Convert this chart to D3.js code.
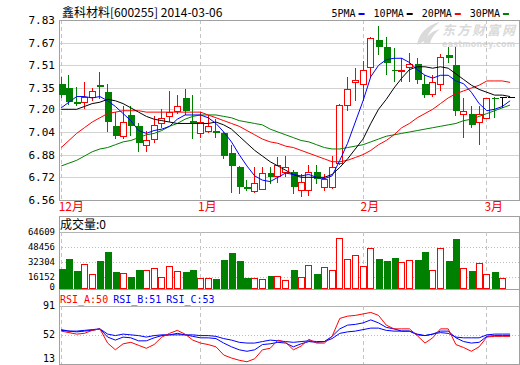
<!DOCTYPE html>
<html><head><meta charset="utf-8">
<script src="https://cdn.jsdelivr.net/npm/d3@7"></script>
<style>html,body{margin:0;padding:0;background:#fff}svg{display:block}</style>
</head><body>
<svg id="c" width="520" height="365"></svg>
<script>
// ---------------- DATA ----------------
const dates = [
 "2013-12-06","2013-12-09","2013-12-10","2013-12-11","2013-12-12","2013-12-13","2013-12-16","2013-12-17","2013-12-18","2013-12-19",
 "2013-12-20","2013-12-23","2013-12-24","2013-12-25","2013-12-26","2013-12-27","2013-12-30","2013-12-31","2014-01-02","2014-01-03",
 "2014-01-06","2014-01-07","2014-01-08","2014-01-09","2014-01-10","2014-01-13","2014-01-14","2014-01-15","2014-01-16","2014-01-17",
 "2014-01-20","2014-01-21","2014-01-22","2014-01-23","2014-01-24","2014-01-27","2014-01-28","2014-01-29","2014-01-30","2014-02-07",
 "2014-02-10","2014-02-11","2014-02-12","2014-02-13","2014-02-14","2014-02-17","2014-02-18","2014-02-19","2014-02-20","2014-02-21",
 "2014-02-24","2014-02-25","2014-02-26","2014-02-27","2014-02-28","2014-03-03","2014-03-04","2014-03-05","2014-03-06"];
const open = [7.38,7.35,7.25,7.25,7.29,7.37,7.32,7.08,7.01,7.16, 7.08,6.95,6.99,7.10,7.15,7.19,7.28,7.12,7.03,7.05,
 7.05,7.03,6.89,6.79,6.65,6.62,6.64,6.75,6.73,6.76, 6.76,6.63,6.63,6.76,6.65,6.65,6.82,7.23,7.39,7.38,
 7.50,7.69,7.64,7.48,7.47,7.50,7.52,7.38,7.31,7.38, 7.58,7.51,7.17,7.17,7.11,7.14,7.28,7.29,7.29];
const high = [7.43,7.44,7.36,7.39,7.35,7.46,7.38,7.18,7.22,7.22, 7.10,7.05,7.15,7.20,7.33,7.30,7.34,7.30,7.18,7.16,
 7.13,7.04,6.95,6.80,6.70,6.79,6.79,6.79,6.86,6.87, 6.77,6.74,6.81,6.81,6.74,6.87,7.24,7.43,7.49,7.54,
 7.71,7.79,7.71,7.63,7.56,7.60,7.56,7.44,7.44,7.59, 7.64,7.64,7.28,7.22,7.22,7.28,7.29,7.29,7.29];
const low = [7.28,7.23,7.22,7.20,7.26,7.27,7.04,6.99,6.99,7.01, 6.90,6.90,6.96,7.07,7.11,7.17,7.16,6.99,7.00,7.03,
 7.00,6.85,6.61,6.60,6.62,6.61,6.63,6.67,6.68,6.72, 6.60,6.58,6.59,6.67,6.62,6.64,6.81,7.19,7.26,7.26,
 7.43,7.58,7.44,7.39,7.39,7.39,7.38,7.28,7.29,7.33, 7.53,7.15,7.00,7.07,6.95,7.13,7.14,7.21,7.29];
const close = [7.30,7.25,7.24,7.29,7.33,7.36,7.11,7.01,7.11,7.08, 6.96,6.98,7.09,7.14,7.18,7.22,7.19,7.10,7.11,7.08,
 7.03,6.87,6.80,6.65,6.64,6.68,6.75,6.72,6.81,6.79, 6.65,6.69,6.76,6.71,6.71,6.79,7.23,7.34,7.41,7.48,
 7.70,7.64,7.53,7.47,7.48,7.52,7.41,7.30,7.39,7.57, 7.56,7.19,7.19,7.09,7.17,7.28,7.27,7.29,7.29];
const volume = [24405,35172,22252,29430,19022,33019,42709,21175,19740,15792, 23329,22970,25123,15433,27276,21893,21175,23329,14715,14715,
 13638,34096,41632,33019,14715,14715,13279,16868,16509,12203, 23329,15433,28353,19022,26200,22970,57424,34813,39120,27276,
 46657,34813,33019,36249,31583,33737,34096,42709,22970,46657, 33019,56706,25123,22252,30507,18663,21175,14356,0];
const ma5 = [7.21,7.25,7.29,7.29,7.28,7.29,7.26,7.22,7.17,7.12, 7.05,7.03,7.05,7.06,7.08,7.13,7.16,7.16,7.16,7.14,
 7.10,7.04,6.97,6.88,6.80,6.73,6.70,6.69,6.72,6.75, 6.74,6.73,6.74,6.72,6.71,6.73,6.84,6.96,7.11,7.26,
 7.43,7.51,7.55,7.56,7.56,7.53,7.48,7.44,7.42,7.44, 7.44,7.40,7.38,7.32,7.24,7.19,7.20,7.22,7.26];
const ma10 = [7.20,7.20,7.20,7.22,7.24,7.25,7.27,7.26,7.24,7.21, 7.18,7.15,7.13,7.12,7.11,7.10,7.10,7.10,7.10,7.10,
 7.11,7.09,7.06,7.01,6.96,6.91,6.87,6.83,6.80,6.77, 6.74,6.72,6.72,6.72,6.72,6.74,6.79,6.85,6.92,6.99,
 7.10,7.20,7.27,7.35,7.42,7.48,7.50,7.50,7.49,7.50, 7.49,7.45,7.41,7.37,7.34,7.32,7.30,7.30,7.29];
const ma20 = [6.93,6.98,7.03,7.07,7.11,7.14,7.17,7.18,7.19,7.19, 7.19,7.18,7.18,7.18,7.18,7.18,7.18,7.18,7.18,7.16,
 7.14,7.12,7.10,7.08,7.05,7.02,6.99,6.97,6.96,6.94, 6.93,6.91,6.89,6.87,6.85,6.83,6.83,6.84,6.86,6.88,
 6.91,6.95,6.98,7.02,7.07,7.10,7.14,7.17,7.20,7.24, 7.28,7.31,7.33,7.35,7.37,7.40,7.40,7.40,7.39];
const ma30 = [6.80,6.82,6.84,6.87,6.90,6.92,6.93,6.95,6.97,6.98, 7.00,7.02,7.03,7.05,7.08,7.10,7.13,7.15,7.16,7.16,
 7.16,7.15,7.14,7.12,7.11,7.10,7.09,7.06,7.04,7.02, 7.00,6.98,6.97,6.95,6.93,6.92,6.92,6.93,6.94,6.95,
 6.97,6.99,7.01,7.02,7.03,7.04,7.05,7.06,7.07,7.08, 7.09,7.10,7.12,7.13,7.15,7.17,7.19,7.21,7.23];
const rsiA = [57,55,53,54,58,60,41,32,40,42, 38,34,39,49,54,58,53,45,41,39,
 36,25,21,18,16,20,32,34,45,42, 32,37,46,41,41,50,74,77,78,80,
 82,78,65,60,60,60,51,41,48,60, 60,39,35,30,36,49,50,50,50];
const rsiB = [59,57,56,57,58,60,49,45,49,48, 44,44,48,51,52,54,52,50,48,48,
 47,41,36,32,30,32,39,40,42,41, 36,40,43,42,43,50,60,65,66,68,
 72,68,62,60,57,57,52,51,53,57, 57,48,43,41,42,50,51,51,51];
const rsiC = [58,57,57,58,59,60,53,51,53,52, 51,49,51,52,52,52,52,52,51,51,
 50,47,45,42,41,41,43,45,44,43, 42,43,44,43,43,47,54,56,57,59,
 61,61,58,57,57,57,53,51,53,55, 54,49,48,48,48,52,53,53,53];
const priceTicks = [7.83,7.67,7.51,7.35,7.20,7.04,6.88,6.72,6.56];
const volTicks = [64609,48456,32304,16152,0];
const rsiTicks = [91,52,13];
const stockTitle = "鑫科材料[600255] 2014-03-06";
const maNames = ["5PMA","10PMA","20PMA","30PMA"];
const maColors = ["#0000ff","#000000","#ff0000","#008000"];
const rsiNames = ["RSI_A","RSI_B","RSI_C"];
const rsiColors = ["#ff0000","#0000ff","#0000ff"];

// ---------------- LAYOUT ----------------
const L = 59, R = 519;
const main = {top: 20, bottom: 200};
const vol = {frameTop: 216, top: 231.7, bottom: 289, zero: 291.7};
const rsi = {frameTop: 289, top: 305.7, bottom: 364};
const MONO = "'DejaVu Sans Mono', monospace";
const CJK = "'Noto Sans CJK SC', 'Noto Sans', sans-serif";
const RED = "#ff0000", GREEN = "#008000";

const svg = d3.select("#c");
const n = dates.length;
const x = d3.scaleLinear().domain([0, n - 1]).range([60.7, 509.6]);
const yP = d3.scaleLinear().domain([6.56, 7.83]).range([main.bottom, main.top]);
const yV = d3.scaleLinear().domain([0, 64609]).range([vol.zero, vol.top]);
const yR = d3.scaleLinear().domain([13, 91]).range([rsi.bottom, rsi.top]);
const px = v => Math.round(v) + 0.5;

// watermark
const wm = svg.append("g").attr("fill", "#dadada");
wm.append("path").attr("d", "M417,45 C419,33 427,25 440,22 C433,27 428,33 426,40 Z M423,44 C426,36 432,31 440,29 C435,33 431,38 430,44 Z");
wm.append("text").attr("x", 442).attr("y", 35).attr("font-family", CJK).attr("font-weight", "bold")
  .attr("font-size", 13).attr("font-style", "italic").attr("textLength", 73).text("东方财富网");
wm.append("text").attr("x", 442).attr("y", 47).attr("font-family", "'DejaVu Sans', sans-serif").attr("font-weight", "bold")
  .attr("font-size", 8).attr("textLength", 73).text("eastmoney.com");

// ---------------- GRID ----------------
const grid = svg.append("g").attr("shape-rendering", "crispEdges");
priceTicks.slice(1, -1).forEach(t => {
  grid.append("line").attr("x1", L).attr("x2", R).attr("y1", px(yP(t))).attr("y2", px(yP(t)))
    .attr("stroke", "#d2d2d2");
});
volTicks.slice(1, -1).forEach(t => {
  grid.append("line").attr("x1", L).attr("x2", R).attr("y1", px(yV(t))).attr("y2", px(yV(t)))
    .attr("stroke", "#bdbdbd").attr("stroke-dasharray", "1,2");
});
grid.append("line").attr("x1", L).attr("x2", R).attr("y1", px(yV(volTicks[0]))).attr("y2", px(yV(volTicks[0])))
  .attr("stroke", "#b4b4b4");
grid.append("line").attr("x1", L).attr("x2", R).attr("y1", px(yR(rsiTicks[1]))).attr("y2", px(yR(rsiTicks[1])))
  .attr("stroke", "#bdbdbd").attr("stroke-dasharray", "1,2");
grid.append("line").attr("x1", L).attr("x2", R).attr("y1", px(yR(rsiTicks[0]))).attr("y2", px(yR(rsiTicks[0])))
  .attr("stroke", "#b4b4b4");

// month boundaries
const monthIdx = dates.map((d, i) => i).filter(i => i === 0 || dates[i].slice(5, 7) !== dates[i - 1].slice(5, 7));
monthIdx.forEach(i => {
  [[main.top, main.bottom], [vol.top, vol.bottom], [rsi.top, rsi.bottom]].forEach(([a, b]) => {
    grid.append("line").attr("x1", px(x(i))).attr("x2", px(x(i))).attr("y1", a).attr("y2", b)
      .attr("stroke", "#c4c4c4").attr("stroke-dasharray", "4,3");
  });
  svg.append("text").attr("x", x(i) - 2).attr("y", 211).attr("fill", RED)
    .attr("font-family", CJK).attr("font-size", 12).text(+dates[i].slice(5, 7) + "月");
});

// frames
const frame = svg.append("g").attr("shape-rendering", "crispEdges").attr("fill", "none").attr("stroke", "#a0a0a0");
frame.append("rect").attr("x", L + 0.5).attr("y", main.top + 0.5).attr("width", R - L).attr("height", main.bottom - main.top);
frame.append("rect").attr("x", L + 0.5).attr("y", vol.frameTop + 0.5).attr("width", R - L).attr("height", vol.bottom - vol.frameTop);
frame.append("rect").attr("x", L + 0.5).attr("y", rsi.frameTop + 0.5).attr("width", R - L).attr("height", rsi.bottom - rsi.frameTop);

// ---------------- AXES ----------------
const axP = svg.append("g").attr("transform", `translate(${L},0)`)
  .call(d3.axisLeft(yP).tickValues(priceTicks).tickSize(0).tickPadding(4).tickFormat(d3.format(".2f")));
axP.select(".domain").remove();
axP.selectAll("text").attr("font-family", MONO).attr("font-size", 11).attr("fill", "#000");

const axV = svg.append("g").attr("transform", `translate(${L},0)`)
  .call(d3.axisLeft(yV).tickValues(volTicks).tickSize(0).tickPadding(4).tickFormat(d3.format("d")));
axV.select(".domain").remove();
axV.selectAll(".tick").attr("transform", d => `translate(0,${Math.min(yV(d), vol.bottom - 2)})`);
axV.selectAll("text").attr("font-family", MONO).attr("font-size", 9).attr("fill", "#000");

const axR = svg.append("g").attr("transform", `translate(${L},0)`)
  .call(d3.axisLeft(yR).tickValues(rsiTicks).tickSize(0).tickPadding(4).tickFormat(d3.format("d")));
axR.select(".domain").remove();
axR.selectAll(".tick").attr("transform", d => `translate(0,${Math.min(yR(d), rsi.bottom - 5)})`);
axR.selectAll("text").attr("font-family", MONO).attr("font-size", 10).attr("fill", "#000");

// ---------------- TITLES / LEGENDS ----------------
svg.append("text").attr("x", 62).attr("y", 17).attr("font-family", CJK).attr("font-size", 12)
  .attr("fill", "#000").text(stockTitle);

let lx = 331.5;
maNames.forEach((nm, k) => {
  const t = svg.append("text").attr("x", lx).attr("y", 17).attr("font-family", MONO).attr("font-size", 10)
    .attr("fill", "#000").text(nm);
  lx += t.node().getComputedTextLength() + 3;
  svg.append("rect").attr("x", lx).attr("y", 13).attr("width", 6).attr("height", 2).attr("fill", maColors[k]);
  lx += 15;
});

svg.append("text").attr("x", 60).attr("y", 229).attr("font-family", CJK).attr("font-size", 12)
  .attr("fill", "#000").text("成交量:" + volume[n - 1]);

const rsiVals = [rsiA, rsiB, rsiC];
let rx = 60;
rsiNames.forEach((nm, k) => {
  const t = svg.append("text").attr("x", rx).attr("y", 303).attr("font-family", MONO).attr("font-size", 10)
    .attr("fill", rsiColors[k]).text(nm + ":" + rsiVals[k][n - 1]);
  rx += t.node().getComputedTextLength() + 5;
});

// ---------------- CANDLES ----------------
const cg = svg.append("g").attr("shape-rendering", "crispEdges");
d3.range(n).forEach(i => {
  const cx = Math.round(x(i));
  const o = open[i], c = close[i];
  const col = c > o ? RED : (c < o ? GREEN : "#000");
  const yt = Math.round(yP(Math.max(o, c))), yb = Math.round(yP(Math.min(o, c)));
  const yh = Math.round(yP(high[i])), yl = Math.round(yP(low[i]));
  if (c > o) {
    cg.append("line").attr("x1", cx + 0.5).attr("x2", cx + 0.5).attr("y1", yh).attr("y2", yt).attr("stroke", col);
    cg.append("line").attr("x1", cx + 0.5).attr("x2", cx + 0.5).attr("y1", yb).attr("y2", yl).attr("stroke", col);
    cg.append("rect").attr("x", cx - 2.5).attr("y", yt + 0.5).attr("width", 6).attr("height", Math.max(1, yb - yt))
      .attr("fill", "#fff").attr("stroke", col);
  } else {
    cg.append("line").attr("x1", cx + 0.5).attr("x2", cx + 0.5).attr("y1", yh).attr("y2", yl).attr("stroke", col);
    cg.append("rect").attr("x", cx - 2.5).attr("y", yt).attr("width", 7).attr("height", Math.max(1, yb - yt))
      .attr("fill", col);
  }
  // volume
  if (volume[i] > 0) {
    const vt = Math.round(yV(volume[i]));
    if (c >= o) {
      cg.append("rect").attr("x", cx - 2.5).attr("y", vt + 0.5).attr("width", 6).attr("height", vol.bottom - vt - 1)
        .attr("fill", "#fff").attr("stroke", RED);
    } else {
      cg.append("rect").attr("x", cx - 2.5).attr("y", vt).attr("width", 7).attr("height", vol.bottom - vt)
        .attr("fill", GREEN);
    }
  }
});

// ---------------- LINES ----------------
[ma30, ma20, ma10, ma5].forEach((arr, k) => {
  const col = maColors[3 - k];
  svg.append("path").datum(arr)
    .attr("d", d3.line().x((d, i) => x(i) + 0.5).y(d => yP(d)))
    .attr("fill", "none").attr("stroke", col).attr("stroke-width", 1);
});
[rsiC, rsiB, rsiA].forEach((arr, k) => {
  svg.append("path").datum(arr)
    .attr("d", d3.line().x((d, i) => x(i) + 0.5).y(d => yR(d)))
    .attr("fill", "none").attr("stroke", rsiColors[2 - k]).attr("stroke-width", 1);
});
</script>
</body></html>
